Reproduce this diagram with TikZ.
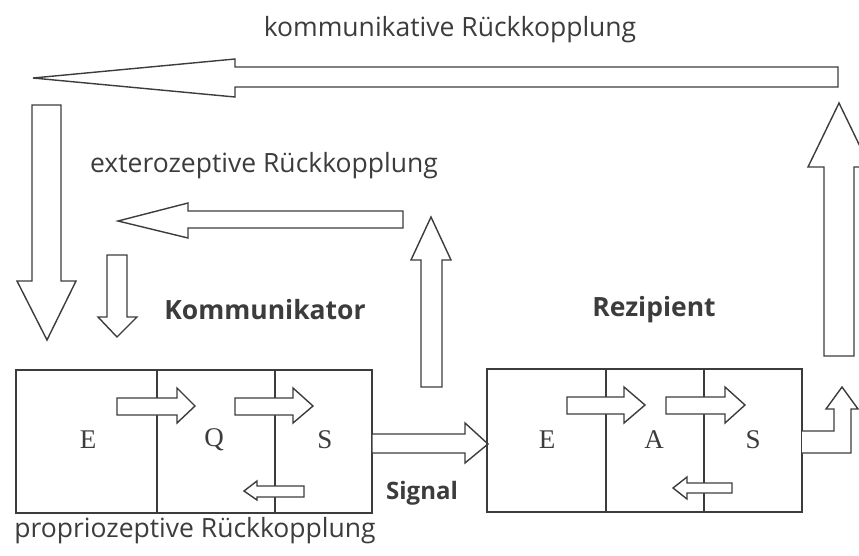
\documentclass[tikz,border=0pt]{standalone}
\usepackage{fontspec}
\setmainfont{Open Sans}
\newfontfamily\serifletters{Liberation Serif}
\begin{document}
\begin{tikzpicture}[x=1pt,y=-1pt,
  blockarrow/.style={draw=ink,fill=white,line width=1.4pt,line join=miter},
  frame/.style={draw=ink,line width=1.4pt},
  label/.style={text=ink,inner sep=0pt,font=\fontsize{26.5}{30}\selectfont},
  boldlabel/.style={text=ink,inner sep=0pt,font=\fontsize{26.5}{30}\selectfont\bfseries},
  part/.style={text=ink,inner sep=0pt,font=\serifletters\fontsize{27}{30}\selectfont}]
\definecolor{ink}{HTML}{3C3C3C}
\useasboundingbox (0,0) rectangle (859,555);
\clip (0,0) rectangle (859,555);

% communicative feedback loop
\draw[blockarrow] (838,67) -- (235,67) -- (235,59) -- (33,78) -- (235,97) -- (235,87) -- (838,87) -- cycle;
\draw[blockarrow] (32,105) -- (61,105) -- (61,281) -- (76,281) -- (47,340) -- (17,281) -- (32,281) -- cycle;
\draw[blockarrow] (824,356) -- (824,167) -- (808,167) -- (839,103) -- (870,167) -- (854,167) -- (854,356) -- cycle;

% exteroceptive feedback loop
\draw[blockarrow] (403,211) -- (188,211) -- (188,203) -- (118,221) -- (188,238) -- (188,228) -- (403,228) -- cycle;
\draw[blockarrow] (107,255) -- (127,255) -- (127,317) -- (137,317) -- (117,337) -- (98,317) -- (107,317) -- cycle;
\draw[blockarrow] (421,387) -- (421,260) -- (411,260) -- (431,217) -- (451,260) -- (442,260) -- (442,387) -- cycle;

% communicator block
\draw[frame] (16,370) rectangle (372,513);
\draw[frame] (157,370) -- (157,513);
\draw[frame] (275,370) -- (275,513);
\node[part] (kE) at (88,440) {E};
\node[part] (kQ) at (214,440) {Q};
\node[part] (kS) at (325,440) {S};
\draw[blockarrow] (117,398) -- (177,398) -- (177,388) -- (195,406) -- (177,423) -- (177,415) -- (117,415) -- cycle;
\draw[blockarrow] (235,398) -- (293,398) -- (293,388) -- (313,406) -- (293,423) -- (293,415) -- (235,415) -- cycle;
\draw[blockarrow] (304,486) -- (257,486) -- (257,481) -- (244,491) -- (257,500) -- (257,497) -- (304,497) -- cycle;

% signal
\draw[blockarrow] (372,434) -- (465,434) -- (465,423) -- (488,444) -- (465,463) -- (465,453) -- (372,453) -- cycle;

% recipient block
\draw[frame] (487,369) rectangle (802,512);
\draw[frame] (606,369) -- (606,512);
\draw[frame] (704,369) -- (704,512);
\node[part] (rE) at (547,440) {E};
\node[part] (rA) at (654,440) {A};
\node[part] (rS) at (753,440) {S};
\draw[blockarrow] (567,397) -- (624,397) -- (624,387) -- (645,405) -- (624,423) -- (624,414) -- (567,414) -- cycle;
\draw[blockarrow] (666,397) -- (725,397) -- (725,387) -- (745,405) -- (725,423) -- (725,414) -- (666,414) -- cycle;
\draw[blockarrow] (732,483) -- (687,483) -- (687,477) -- (673,488) -- (687,499) -- (687,493) -- (732,493) -- cycle;
\draw[blockarrow] (802,431) -- (834,431) -- (834,409) -- (826,409) -- (842,387) -- (858,409) -- (851,409) -- (851,453) -- (802,453);

% labels
\node[label] (komm) at (450,30) {kommunikative Rückkopplung};
\node[label] (extero) at (264,166) {exterozeptive Rückkopplung};
\node[label] (proprio) at (195,531) {propriozeptive Rückkopplung};
\node[boldlabel] (kommunikator) at (265,310) {Kommunikator};
\node[boldlabel] (rezipient) at (654,310) {Rezipient};
\node[boldlabel,font=\fontsize{24}{28}\selectfont\bfseries] (signal) at (422,493) {Signal};
\end{tikzpicture}
\end{document}
